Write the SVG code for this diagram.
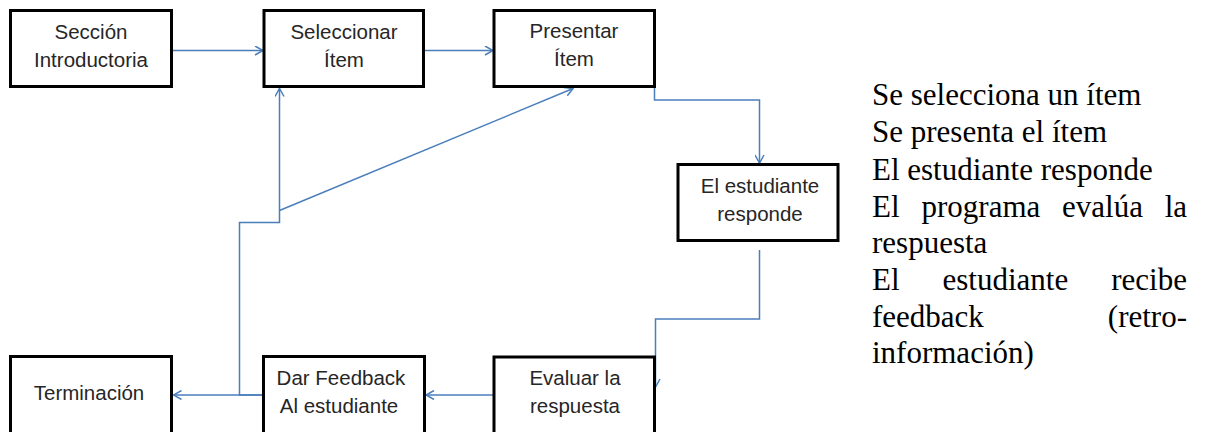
<svg xmlns="http://www.w3.org/2000/svg" width="1205" height="432" viewBox="0 0 1205 432">
<style>
  .box { fill: #ffffff; stroke: #000000; stroke-width: 3; }
  .lbl { font-family: "Liberation Sans", Arial, sans-serif; font-size: 20.5px; fill: #262626; text-anchor: middle; }
  .conn { fill: none; stroke: #4A7EBB; stroke-width: 1.5; }
  .side { font-family: "Liberation Serif", "Times New Roman", serif; font-size: 31px; fill: #000000; }
</style>
<defs>
  <marker id="arr" viewBox="0 0 10 10" refX="9" refY="5" markerWidth="10" markerHeight="10" markerUnits="userSpaceOnUse" orient="auto">
    <path d="M1,0.5 L9,5 L1,9.5" fill="none" stroke="#4A7EBB" stroke-width="1.5"/>
  </marker>
</defs>
<rect width="1205" height="432" fill="#ffffff"/>

<g id="connectors">
  <line class="conn" x1="173" y1="50.5" x2="263" y2="50.5" marker-end="url(#arr)"/>
  <line class="conn" x1="425" y1="50.5" x2="493" y2="50.5" marker-end="url(#arr)"/>
  <polyline class="conn" points="654.5,35 654.5,100 759.5,100 759.5,163" marker-end="url(#arr)"/>
  <polyline class="conn" points="759.5,250 759.5,319 655.5,319 655.5,387" marker-end="url(#arr)"/>
  <line class="conn" x1="493" y1="395" x2="426" y2="395" marker-end="url(#arr)"/>
  <line class="conn" x1="263" y1="395" x2="173.5" y2="395" marker-end="url(#arr)"/>
  <polyline class="conn" points="263,395 239.5,395 239.5,222.5 279.5,222.5 279.5,88.5" marker-end="url(#arr)"/>
  <line class="conn" x1="279.5" y1="210.5" x2="573" y2="88.5" marker-end="url(#arr)"/>
</g>

<g id="node-seccion">
  <rect class="box" x="10.5" y="10.5" width="161" height="76"/>
  <text class="lbl" x="91" y="39">Sección</text>
  <text class="lbl" x="91" y="67">Introductoria</text>
</g>
<g id="node-seleccionar">
  <rect class="box" x="264" y="10.5" width="159.5" height="76"/>
  <text class="lbl" x="344" y="39">Seleccionar</text>
  <text class="lbl" x="344" y="67">Ítem</text>
</g>
<g id="node-presentar">
  <rect class="box" x="494" y="10.5" width="160.5" height="76"/>
  <text class="lbl" x="574" y="38">Presentar</text>
  <text class="lbl" x="574" y="66">Ítem</text>
</g>
<g id="node-responde">
  <rect class="box" x="678" y="164.5" width="160" height="76"/>
  <text class="lbl" x="760" y="193">El estudiante</text>
  <text class="lbl" x="760" y="221">responde</text>
</g>
<g id="node-evaluar">
  <rect class="box" x="494" y="357" width="160.5" height="77"/>
  <text class="lbl" x="575" y="385">Evaluar la</text>
  <text class="lbl" x="575" y="413">respuesta</text>
</g>
<g id="node-feedback">
  <rect class="box" x="263.5" y="356.5" width="161" height="77"/>
  <text class="lbl" x="341" y="385">Dar Feedback</text>
  <text class="lbl" x="339" y="413">Al estudiante</text>
</g>
<g id="node-terminacion">
  <rect class="box" x="10.5" y="356.5" width="161" height="77"/>
  <text class="lbl" x="89" y="400">Terminación</text>
</g>

<g id="side-text" class="side">
  <text x="872" y="105">Se selecciona un ítem</text>
  <text x="872" y="142">Se presenta el ítem</text>
  <text x="872" y="180">El estudiante responde</text>
  <text x="872" y="217">El</text>
  <text x="921.5" y="217">programa</text>
  <text x="1062" y="217">evalúa</text>
  <text x="1187" y="217" text-anchor="end">la</text>
  <text x="872" y="253">respuesta</text>
  <text x="872" y="290">El</text>
  <text x="942.5" y="290">estudiante</text>
  <text x="1187" y="290" text-anchor="end">recibe</text>
  <text x="872" y="327">feedback</text>
  <text x="1187" y="327" text-anchor="end">(retro-</text>
  <text x="872" y="363">información)</text>
</g>
</svg>
